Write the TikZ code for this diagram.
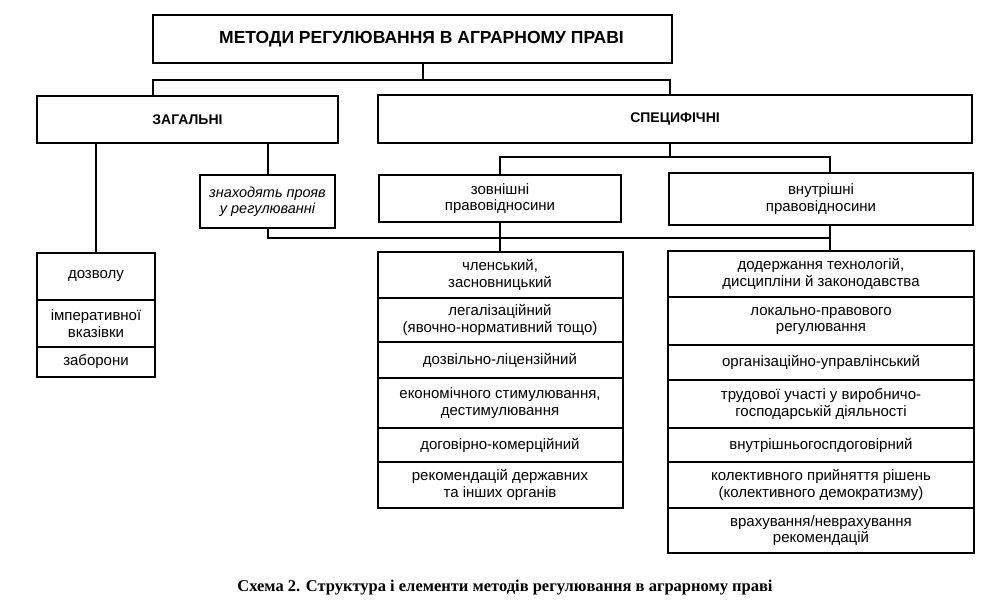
\documentclass[tikz,border=0pt]{standalone}
\usepackage{fontspec}
\setmainfont{Liberation Sans}
\newfontfamily\capfont{Liberation Serif}
\usepackage{tikz}
\usetikzlibrary{positioning}

\begin{document}
\begin{tikzpicture}[x=1pt, y=-1pt,
  box/.style={draw, line width=2.2pt, outer sep=0pt, inner sep=2pt, align=center,
    font=\fontsize{15}{16.5}\selectfont},
  headbox/.style={box, font=\bfseries\fontsize{14}{16}\selectfont},
  cell/.style={box, line width=2pt, minimum width=#1},
  link/.style={line width=2pt}]
\useasboundingbox (0,0) rectangle (994,606);
% Title
\node[box, minimum width=519pt, minimum height=48pt,
  font=\bfseries\fontsize{17.5}{19}\selectfont] (title) at (412.5,39)
  {\hspace*{18pt}МЕТОДИ РЕГУЛЮВАННЯ В АГРАРНОМУ ПРАВІ};
% Two groups
\node[headbox, minimum width=301pt, minimum height=47pt] (general) at (187.5,119.5) {ЗАГАЛЬНІ};
\node[headbox, minimum width=594pt, minimum height=48pt] (specific) at (675,119) {СПЕЦИФІЧНІ};
\node[box, font=\itshape\fontsize{14.5}{15.5}\selectfont, minimum width=135pt,
  minimum height=53pt] (note) at (267.5,201.5) {знаходять прояв\\у регулюванні};
\node[box, minimum width=242pt, minimum height=47pt] (zovn) at (500,198.5)
  {зовнішні\\правовідносини};
\node[box, minimum width=304pt, minimum height=52pt] (vnut) at (821,199)
  {внутрішні\\правовідносини};
% General methods
\node[cell=118pt, minimum height=47pt] (g1) at (96,276.5) {дозволу};
\node[cell=118pt, minimum height=47pt, below=0pt of g1] (g2) {імперативної\\вказівки};
\node[cell=118pt, minimum height=30pt, below=0pt of g2] (g3) {заборони};
% External relations
\node[cell=245pt, minimum height=46pt] (z1) at (500,275) {членський,\\засновницький};
\node[cell=245pt, minimum height=44pt, below=0pt of z1] (z2) {легалізаційний\\(явочно-нормативний тощо)};
\node[cell=245pt, minimum height=36pt, below=0pt of z2] (z3) {дозвільно-ліцензійний};
\node[cell=245pt, minimum height=50pt, below=0pt of z3] (z4) {економічного стимулювання,\\дестимулювання};
\node[cell=245pt, minimum height=34pt, below=0pt of z4] (z5) {договірно-комерційний};
\node[cell=245pt, minimum height=46pt, below=0pt of z5] (z6) {рекомендацій державних\\та інших органів};
% Internal relations
\node[cell=306pt, minimum height=46pt] (v1) at (821,274) {додержання технологій,\\дисципліни й законодавства};
\node[cell=306pt, minimum height=48pt, below=0pt of v1] (v2) {локально-правового\\регулювання};
\node[cell=306pt, minimum height=35pt, below=0pt of v2] (v3) {організаційно-управлінський};
\node[cell=306pt, minimum height=48pt, below=0pt of v3] (v4) {трудової участі у виробничо-\\господарській діяльності};
\node[cell=306pt, minimum height=34pt, below=0pt of v4] (v5) {внутрішньогоспдоговірний};
\node[cell=306pt, minimum height=46pt, below=0pt of v5] (v6) {колективного прийняття рішень\\(колективного демократизму)};
\node[cell=306pt, minimum height=45pt, below=0pt of v6] (v7) {врахування/неврахування\\рекомендацій};
% Connectors
\coordinate (ttap) at (423,0);
\coordinate (busL) at (153,80);
\coordinate (busR) at (670,80);
\coordinate (vtap) at (830,0);
\draw[link] (ttap |- title.south) -- (ttap |- busL);
\draw[link] (busL |- general.north) -- (busL) -- (busR) -- (busR |- specific.north);
\draw[link] (general.south -| g1.north) -- (g1.north);
\draw[link] (general.south -| note.north) -- (note.north);
\coordinate (bus2) at (0,157);
\draw[link] (specific.south -| busR) -- (busR |- bus2);
\draw[link] (zovn.north) -- (zovn.north |- bus2) -- (vtap |- bus2) -- (vtap |- vnut.north);
\coordinate (bus3) at (0,238);
\draw[link] (note.south) -- (note.south |- bus3) -- (vtap |- bus3);
\draw[link] (zovn.south) -- (z1.north);
\draw[link] (vtap |- vnut.south) -- (vtap |- v1.north);
% Caption
\node[font=\capfont\bfseries\fontsize{16.5}{18}\selectfont] (caption) at (505,588)
  {Схема 2. Структура і елементи методів регулювання в аграрному праві};
\end{tikzpicture}
\end{document}
